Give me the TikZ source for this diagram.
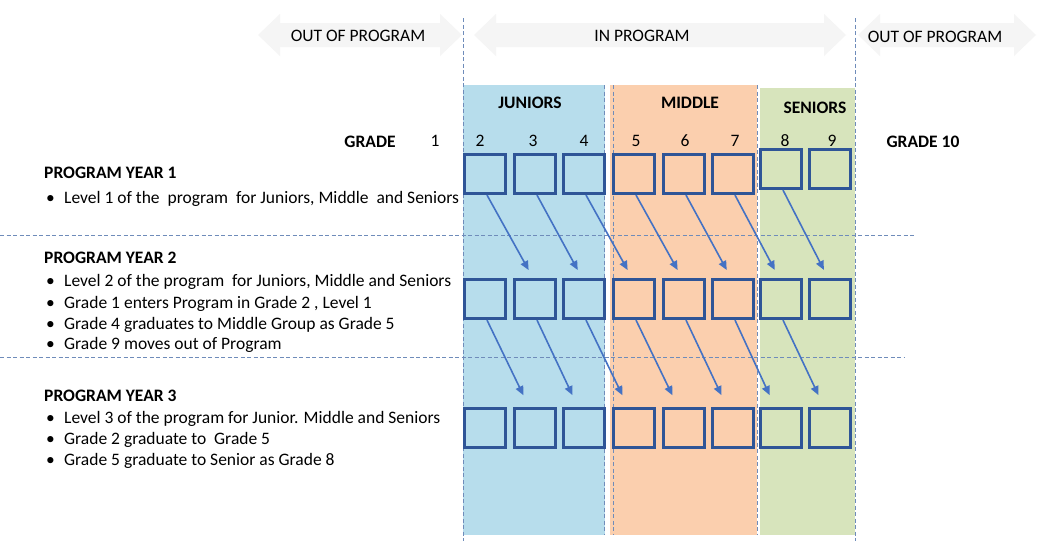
\documentclass[tikz,border=0pt]{standalone}
\usepackage{fontspec}
\setmainfont{Carlito}
\usetikzlibrary{arrows.meta}
\definecolor{jun}{HTML}{B7DDEC}
\definecolor{mid}{HTML}{FBCFAE}
\definecolor{sen}{HTML}{D7E4BC}
\definecolor{boxc}{HTML}{2F5597}
\definecolor{arrc}{HTML}{4472C4}
\definecolor{dashc}{HTML}{6F8CBA}
\definecolor{faintc}{HTML}{F5F5F5}
\newcommand\fatarrow[2]{\fill[faintc] (#1,35) -- (#1+22,14) -- (#1+22,23) -- (#2-22,23) -- (#2-22,14) -- (#2,35) -- (#2-22,56) -- (#2-22,47) -- (#1+22,47) -- (#1+22,56) -- cycle;}
\begin{document}
\begin{tikzpicture}[x=1pt,y=-1pt,
  txt/.style={font=\fontsize{17.5}{20}\selectfont,inner sep=0pt},
  hd/.style={txt,font=\fontsize{17.5}{20}\selectfont\bfseries},
  cell/.style={draw=boxc,line width=3.2pt,minimum width=41pt,minimum height=39pt,inner sep=0pt},
  arr/.style={draw=arrc,line width=1.6pt,-{Triangle[length=9pt,width=8pt]}},
  dl/.style={draw=dashc,line width=0.9pt,dash pattern=on 4pt off 2.5pt}]
\useasboundingbox (0,0) rectangle (1038,541);
\fill[white] (0,0) rectangle (1038,541);
% faint top arrows
\fatarrow{258}{462}
\fatarrow{474}{846}
\fatarrow{858}{1036}
% column backgrounds
\fill[jun] (463,85) rectangle (605,535);
\fill[mid] (610,85) rectangle (757,535);
\fill[sen] (760,88) rectangle (855,535);
% dashed lines
\draw[dl] (463,18) -- (463,541);
\draw[dl] (855,18) -- (855,541);
\draw[dl] (604,85) -- (604,535);
\draw[dl] (613,85) -- (613,535);
\draw[dl] (757,85) -- (757,535);
\draw[dl] (0,235) -- (915,235);
\draw[dl] (0,357) -- (905,357);
% top labels
\node[txt,anchor=base] (op1) at (358,41) {OUT OF PROGRAM};
\node[txt,anchor=base] (ip) at (642,41) {IN PROGRAM};
\node[txt,anchor=base] (op2) at (935,42) {OUT OF PROGRAM};
\node[hd,anchor=base] (jl) at (530,108) {JUNIORS};
\node[hd,anchor=base] (ml) at (690,108) {MIDDLE};
\node[hd,anchor=base] (sl) at (815,113) {SENIORS};
% grades
\node[hd,anchor=base] (gr) at (370,147) {GRADE};
\node[hd,anchor=base] (gr10) at (923,147) {GRADE 10};
\foreach \n/\x in {1/435,2/480,3/533,4/584,5/636,6/685,7/735,8/785,9/832}
  \node[txt,anchor=base] (g\n) at (\x,146) {\n};
% boxes
\foreach \i/\x in {1/485,2/535,3/584,4/634,5/684,6/733}
  \node[cell] (r1-\i) at (\x,174) {};
\node[cell] (r1-7) at (781,169) {};
\node[cell] (r1-8) at (830,169) {};
\foreach \i/\x in {1/485,2/535,3/584,4/634,5/684,6/733,7/781,8/830}{
  \node[cell] (r2-\i) at (\x,299) {};
  \node[cell] (r3-\i) at (\x,428) {};
}
% arrows
\foreach \i/\j in {1/2,2/3,3/4,4/5,5/6,6/7,7/8}{
  \draw[arr,shorten >=9pt] ([xshift=2pt]r1-\i.south) -- ([xshift=-2pt]r2-\j.north);
  \draw[arr,shorten >=13pt] ([xshift=2pt]r2-\i.south) -- ([xshift=-6pt]r3-\j.north);
}
% left text
\newcommand\bl[1]{\makebox[20pt][l]{\hspace{2pt}•}#1}
\node[hd,anchor=base west] (y1) at (44,178) {PROGRAM YEAR 1};
\node[txt,anchor=base west] (y1a) at (44,203) {\bl{Level 1 of the\ \ program\ \ for Juniors, Middle\ \ and Seniors}};
\node[hd,anchor=base west] (y2) at (44,263) {PROGRAM YEAR 2};
\node[txt,anchor=base west] (y2a) at (44,286) {\bl{Level 2 of the program\ \ for Juniors, Middle and Seniors}};
\node[txt,anchor=base west] (y2b) at (44,308) {\bl{Grade 1 enters Program in Grade 2 , Level 1}};
\node[txt,anchor=base west] (y2c) at (44,329) {\bl{Grade 4 graduates to Middle Group as Grade 5}};
\node[txt,anchor=base west] (y2d) at (44,349) {\bl{Grade 9 moves out of Program}};
\node[hd,anchor=base west] (y3) at (44,401) {PROGRAM YEAR 3};
\node[txt,anchor=base west] (y3a) at (44,423) {\bl{Level 3 of the program for Junior. Middle and Seniors}};
\node[txt,anchor=base west] (y3b) at (44,444) {\bl{Grade 2 graduate to\ \ Grade 5}};
\node[txt,anchor=base west] (y3c) at (44,465) {\bl{Grade 5 graduate to Senior as Grade 8}};
\end{tikzpicture}
\end{document}
